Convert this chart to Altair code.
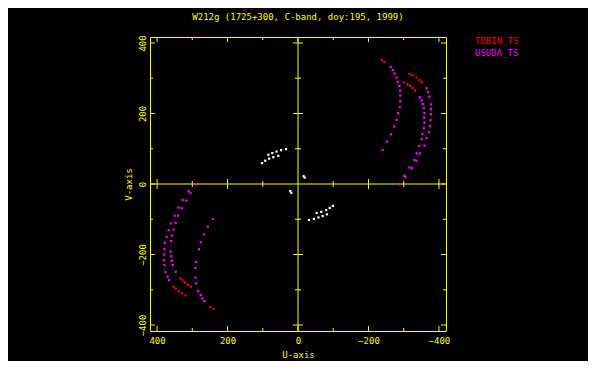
import altair as alt
import pandas as pd

title_text = "W212g (1725+300, C-band, doy:195, 1999)"
legend_names = ["TDBIN_TS", "USUDA_TS"]
legend_colors = ["#ff0000", "#ff00ff"]
major_ticks = [400, 200, 0, -200, -400]
minor_ticks = [300, 100, -100, -300]

# TDBIN_TS (red)
tdbin_u = [-238, -245, -317, -325, -336, -344, -351, -301, -310, -318, -325, -332,
           334, 328, 321, 312, 304, 353, 347, 338, 330, 319, 249, 240]
tdbin_v = [352, 346, 312, 309, 302, 295, 289, 288, 283, 278, 272, 265,
           -268, -273, -279, -286, -291, -291, -297, -304, -310, -316, -349, -354]

# USUDA_TS (magenta)
usuda_u = [-263, -269, -274, -280, -283, -288, -290, -290, -290, -289, -284, -280, -273, -264, -253, -240,
           -365, -369, -373, -377, -377, -377, -376, -374, -372, -365, -359, -346, -336, -324, -305, -287,
           -346, -351, -354, -357, -359, -358, -359, -357, -353, -351, -344, -337, -330, -316, -302,
           289, 310, 327, 339, 350, 361, 367, 373, 378, 379, 380, 381, 379, 376, 370, 366,
           305, 317, 330, 340, 347, 353, 357, 360, 362, 360, 358, 355, 347,
           241, 256, 267, 276, 281, 289, 291, 291, 289, 283, 276, 271, 265]
usuda_v = [332, 323, 313, 302, 290, 278, 265, 251, 235, 218, 201, 182, 163, 141, 120, 97,
           272, 260, 248, 226, 212, 198, 181, 164, 147, 130, 109, 87, 66, 45, 20, -1,
           246, 237, 227, 215, 201, 188, 174, 158, 142, 127, 108, 87, 68, 47, 23,
           -1, -20, -45, -67, -90, -112, -131, -150, -167, -185, -200, -216, -230, -250, -263, -273,
           -26, -47, -69, -90, -110, -129, -146, -162, -191, -205, -218, -230, -249,
           -99, -121, -143, -165, -185, -221, -238, -265, -282, -304, -315, -325, -332]

# other baseline (white)
other_u = [102, 93, 82, 84, 73, 70, 61, 56, 48, 34, -16, -19, 22, 19,
           -31, -45, -58, -53, -66, -70, -80, -82, -90, -99]
other_v = [59, 66, 72, 83, 88, 76, 92, 80, 96, 99, 22, 18, -20, -25,
           -102, -99, -95, -82, -79, -91, -74, -86, -68, -62]

YEL = "#ffff00"
FONT = "DejaVu Sans Mono"
W, H = 296, 294

pts = pd.concat([
    pd.DataFrame({"u": tdbin_u, "v": tdbin_v, "station": "TDBIN_TS"}),
    pd.DataFrame({"u": usuda_u, "v": usuda_v, "station": "USUDA_TS"}),
    pd.DataFrame({"u": other_u, "v": other_v, "station": "other"}),
])

xs = alt.Scale(domain=[-420, 420], reverse=True, nice=False, zero=False)
ys = alt.Scale(domain=[-417, 417], nice=False, zero=False)
xax = alt.Axis(values=major_ticks, title="U-axis", titleX=W / 2, titleY=23, titleAlign="center",
               titleBaseline="middle", labelPadding=5, labelFlush=False)
yax = alt.Axis(values=major_ticks, title="V-axis", titleX=-22, titleY=H / 2, titleAngle=270,
               titleAlign="center", titleBaseline="middle", labelAngle=270, labelAlign="center",
               labelBaseline="middle", labelPadding=8, labelFlush=False)
X = alt.X("u:Q", scale=xs, axis=xax)
Y = alt.Y("v:Q", scale=ys, axis=yax)

layers = []

# center lines
layers.append(alt.Chart(pd.DataFrame({"u": [0]})).mark_rule(color=YEL, strokeWidth=1).encode(x=X))
layers.append(alt.Chart(pd.DataFrame({"v": [0]})).mark_rule(color=YEL, strokeWidth=1).encode(y=Y))

# ticks crossing the center lines
for vals, size in ((major_ticks, 10), (minor_ticks, 6)):
    nz = [t for t in vals if t != 0]
    layers.append(alt.Chart(pd.DataFrame({"u": [0] * len(nz), "v": nz}))
                  .mark_tick(orient="horizontal", size=size, thickness=1, color=YEL, opacity=1)
                  .encode(x=X, y=Y))
    layers.append(alt.Chart(pd.DataFrame({"u": nz, "v": [0] * len(nz)}))
                  .mark_tick(orient="vertical", size=size, thickness=1, color=YEL, opacity=1)
                  .encode(x=X, y=Y))

# inward ticks on the frame
for vals, L in ((major_ticks, 5), (minor_ticks, 3)):
    du = pd.DataFrame({"u": vals})
    dv = pd.DataFrame({"v": vals})
    layers.append(alt.Chart(du).mark_rule(color=YEL).encode(x=X, y=alt.value(H), y2=alt.value(H - L)))
    layers.append(alt.Chart(du).mark_rule(color=YEL).encode(x=X, y=alt.value(0), y2=alt.value(L)))
    layers.append(alt.Chart(dv).mark_rule(color=YEL).encode(y=Y, x=alt.value(0), x2=alt.value(L)))
    layers.append(alt.Chart(dv).mark_rule(color=YEL).encode(y=Y, x=alt.value(W), x2=alt.value(W - L)))

# data points
layers.append(alt.Chart(pts).mark_square(size=5, opacity=1, strokeWidth=0).encode(
    x=X, y=Y,
    color=alt.Color("station:N",
                    scale=alt.Scale(domain=["TDBIN_TS", "USUDA_TS", "other"],
                                    range=["#ff0000", "#ff00ff", "#ffffff"]),
                    legend=None)))

# title
layers.append(alt.Chart(pd.DataFrame({"t": [title_text]})).mark_text(
    color=YEL, font=FONT, fontSize=9, align="center", baseline="middle").encode(
    text="t:N", x=alt.value(W / 2), y=alt.value(-20.5)))

# legend entries
for i, (name, col) in enumerate(zip(legend_names, legend_colors)):
    layers.append(alt.Chart(pd.DataFrame({"n": [name]})).mark_text(
        color=col, font=FONT, fontSize=9, align="left", baseline="middle").encode(
        text="n:N", x=alt.value(325), y=alt.value(3.7 + 12 * i)))

chart = alt.layer(*layers).properties(
    width=W, height=H,
    autosize=alt.AutoSizeParams(type="none"),
    padding={"left": 142, "top": 29, "right": 142, "bottom": 30},
    background="#000000",
).configure_view(stroke=YEL, strokeWidth=1, fill="#000000").configure_axis(
    domain=False, ticks=False, tickSize=0, grid=False,
    labelColor=YEL, labelFont=FONT, labelFontSize=9,
    titleColor=YEL, titleFont=FONT, titleFontSize=9, titleFontWeight="normal",
    labelOverlap=False, labelBound=False,
)

chart.save("out.html", embed_options={"renderer": "svg", "actions": False})
